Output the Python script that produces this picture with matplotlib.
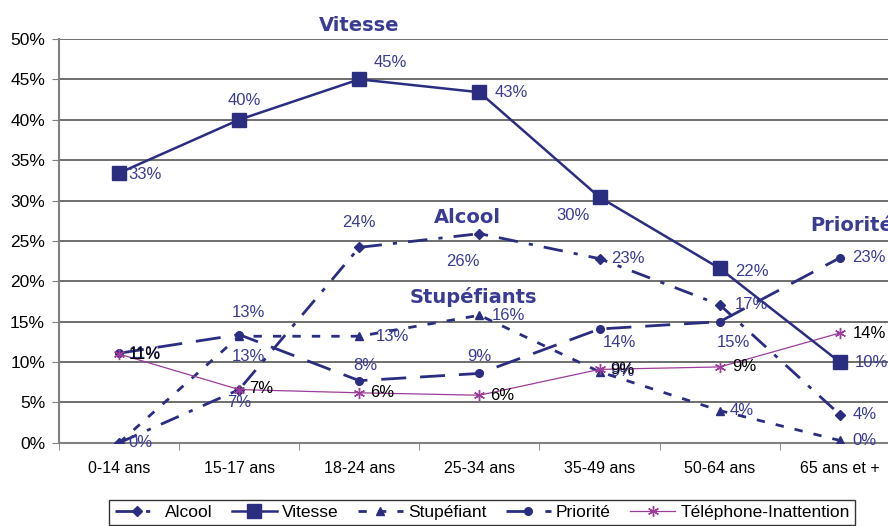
import matplotlib
matplotlib.use("Agg")
import matplotlib.pyplot as plt
from matplotlib.ticker import FuncFormatter

plt.rcParams['font.family'] = ['Liberation Sans', 'DejaVu Sans']

# Data
categories = ['0-14 ans', '15-17 ans', '18-24 ans', '25-34 ans', '35-49 ans', '50-64 ans', '65 ans et +']
alcool = [0, 6.6, 24.2, 25.9, 22.8, 17.1, 3.5]
vitesse = [33.4, 40.0, 45.0, 43.4, 30.4, 21.6, 10.0]
stupefiant = [0, 13.2, 13.2, 15.8, 8.8, 4.0, 0.3]
priorite = [11.1, 13.4, 7.7, 8.6, 14.1, 15.0, 22.9]
telephone = [11.0, 6.6, 6.2, 5.9, 9.1, 9.4, 13.6]

navy = '#2b2d80'
lab_blue = '#3a3c94'
purple = '#9b3d9b'

fig = plt.figure(figsize=(8.88, 5.26), dpi=100)
ax = fig.add_axes([0.0664, 0.158, 0.947, 0.768])

x = list(range(len(categories)))

ax.plot(x, alcool, color=navy, lw=2.0, dashes=(7, 4, 1.5, 4), marker='D', ms=5,
        label='Alcool', zorder=3)
ax.plot(x, vitesse, color=navy, lw=1.8, marker='s', ms=10, label='Vitesse', zorder=4)
ax.plot(x, stupefiant, color=navy, lw=2.0, dashes=(3, 4), marker='^', ms=6,
        label='Stupéfiant', zorder=3)
ax.plot(x, priorite, color=navy, lw=2.0, dashes=(9, 5), marker='o', ms=5.5,
        label='Priorité', zorder=3)
ax.plot(x, telephone, color=purple, lw=0.9, marker=(6, 2, 0), ms=8, mew=1.0,
        label='Téléphone-Inattention', zorder=3)


# data labels: (dx, dy, ha) offsets in points
def put_labels(vals, offs, color):
    for i, (v, (dx, dy, ha)) in enumerate(zip(vals, offs)):
        if ha is None:
            continue
        ax.annotate('%d%%' % round(v), (i, v), xytext=(dx, dy), textcoords='offset points',
                    ha=ha, va='center', fontsize=12, color=color, zorder=6)


L, C = 'left', 'center'
put_labels(vitesse, [(7, -1, L), (4, 14, C), (10, 12, L), (11, 0, L), (-7, -13, 'right'),
                     (11, -2, L), (11, 0, L)], lab_blue)
put_labels(alcool, [(0, 0, None), (0, -9, C), (0, 18, C), (-12, -20, C), (8, 0, L),
                    (11, 0, L), (9, 0, L)], lab_blue)
put_labels(stupefiant, [(7, 0, L), (7, 17, C), (12, 0, L), (9, 0, L), (8, 0, L),
                        (7, 0, L), (9, 0, L)], lab_blue)
put_labels(priorite, [(7, 0, L), (7, -16, C), (4, 11, C), (0, 12, C), (2, -10, L),
                      (-2, -15, L), (9, 0, L)], lab_blue)
put_labels(telephone, [(7, 0, L), (7, 1, L), (8, 0, L), (8, 0, L), (8, 0, L),
                       (9, 0, L), (9, 0, L)], 'black')

# series titles
title_kw = dict(fontsize=14, fontweight='bold', color=lab_blue, family='DejaVu Sans',
                ha='center', va='center', zorder=6)
ax.text(2.0, 51.6, 'Vitesse', **title_kw)
ax.text(2.9, 27.9, 'Alcool', **title_kw)
ax.text(2.95, 18.1, 'Stupéfiants', **title_kw)
ax.text(6.1, 26.9, 'Priorité', **title_kw)

ax.set_xlim(-0.5, 6.5)
ax.set_ylim(0, 50)
ax.set_yticks(range(0, 51, 5))
ax.yaxis.set_major_formatter(FuncFormatter(lambda v, p: '%d%%' % v))
ax.set_xticks(x)
ax.set_xticklabels(categories)
ax.set_xticks([i + 0.5 for i in range(-1, 7)], minor=True)
ax.tick_params(axis='x', which='major', length=0, pad=13, labelsize=11.5)
ax.tick_params(axis='x', which='minor', length=5, color='#808080', direction='out')
ax.tick_params(axis='y', length=5, color='#808080', labelsize=12.5, pad=5)
ax.grid(axis='y', color='#555555', lw=1.2)
ax.set_axisbelow(True)
for s in ['top', 'right']:
    ax.spines[s].set_visible(False)
for s in ['left', 'bottom']:
    ax.spines[s].set_color('#808080')
    ax.spines[s].set_linewidth(1.5)

fig.legend(loc='upper center', bbox_to_anchor=(0.543, 0.050), ncol=5, fontsize=12.5,
           frameon=True, fancybox=False, edgecolor='black', handlelength=2.6,
           handletextpad=0.3, columnspacing=1.1, borderpad=0.3, borderaxespad=0)

fig.savefig('out.png', dpi=100)
